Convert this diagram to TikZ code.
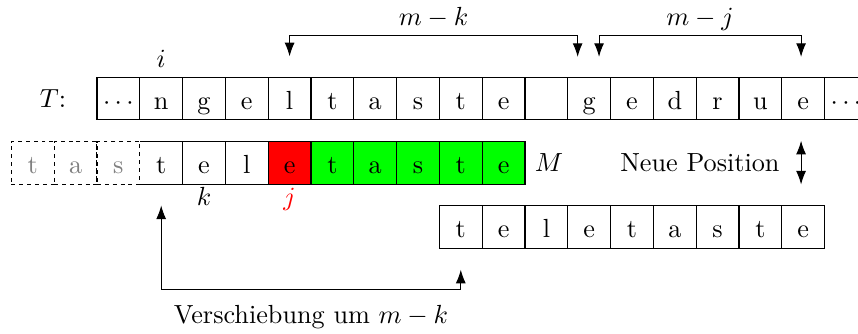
\documentclass[tikz,border=0pt]{standalone}
\usetikzlibrary{arrows.meta,positioning}

\begin{document}
\begin{tikzpicture}[x=0.574cm, y=0.574cm, >={Latex[length=5.2pt,width=3.8pt]},
  cell/.style={draw, minimum size=0.574cm, inner sep=0pt, text height=8.4pt, text depth=0pt},
  ghost/.style={cell, fill=white, dash pattern=on 1.5pt off 1.5pt, text=gray}]

\useasboundingbox (-2.266,-5.50) rectangle (17.78,2.30);

% text T
\foreach \i/\lab in {0/$\cdots$,1/n,2/g,3/e,4/l,5/t,6/a,7/s,8/t,9/e,10/{},11/g,12/e,13/d,14/r,15/u,16/e,17/$\cdots$}
  \node[cell] (t\i) at (\i+0.5,0) {\lab};
\node[left=8pt] at (t0.west) {$T$:};
\node[above] at (t1.north) {$i$};

% pattern M
\foreach \i/\lab/\col in {1/t/white,2/e/white,3/l/white,4/e/red,5/t/green,6/a/green,7/s/green,8/t/green,9/e/green}
  \node[cell, fill=\col] (p\i) at (\i+0.5,-1.5) {\lab};
\foreach \i/\lab in {1/t,2/a,3/s}
  \node[ghost] (g\i) at (\i-2.5,-1.5) {\lab};
\node[right] at (p9.east) {$M$};
\node[anchor=base] at ([yshift=-0.28cm]p2.south) {$k$};
\node[anchor=base, text=red] at ([yshift=-0.28cm]p4.south) {$j$};

% pattern at new position
\foreach \i/\lab in {1/t,2/e,3/l,4/e,5/t,6/a,7/s,8/t,9/e}
  \node[cell] (n\i) at (\i+7.5,-3) {\lab};

% distances on top
\coordinate (top) at (0,1.48);
\coordinate (mkL) at ([yshift=0.27cm]t4.north);
\coordinate (mkR) at (11.23,0.97);
\coordinate (mjL) at (11.73,0.97);
\coordinate (mjR) at (16.45,0.97);
\draw[<->] (mkL) -- (mkL |- top) -- node[above, text depth=0pt] {$m-k$} (mkR |- top) -- (mkR);
\draw[<->] (mjL) -- (mjL |- top) -- node[above, text depth=0pt] {$m-j$} (mjR |- top) -- (mjR);

% new position
\coordinate (np) at (16.45,-1.5);
\draw[<->] (np |- p9.north) -- (np |- p9.south);
\node[left=4.7pt] at (np) {Neue Position};

% shift
\coordinate (bot) at (0,-4.47);
\coordinate (vL) at ([yshift=-0.28cm]p1.south);
\coordinate (vR) at ([yshift=-0.28cm]n1.south);
\draw[<->] (vL) -- (vL |- bot) -- node[below=2.4pt] {Verschiebung um $m-k$} (vR |- bot) -- (vR);

\end{tikzpicture}
\end{document}
